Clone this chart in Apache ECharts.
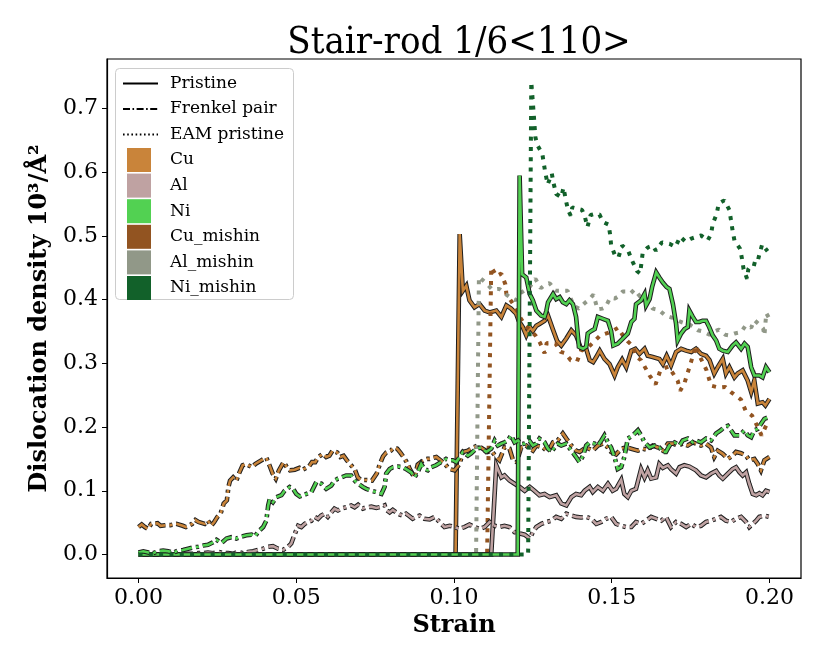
<!DOCTYPE html>
<html>
<head>
<meta charset="utf-8">
<script src="https://cdn.jsdelivr.net/npm/echarts@6/dist/echarts.min.js"></script>
<style>html,body{margin:0;padding:0;background:#fff}#c{width:830px;height:664px}</style>
</head>
<body>
<div id="c"></div>
<script>
// ---- tick labels ----
const strainTicks = [0, 0.05, 0.10, 0.15, 0.20];
const densityTicks = [0, 0.1, 0.2, 0.3, 0.4, 0.5, 0.6, 0.7];

// ---- legend entries ----
const styleNames = ['Pristine', 'Frenkel pair', 'EAM pristine'];
const elementNames = ['Cu', 'Al', 'Ni', 'Cu_mishin', 'Al_mishin', 'Ni_mishin'];
const elementColors = ['#c9843a', '#bfa2a2', '#52d152', '#925421', '#919888', '#12612a'];

// ---- data: [strain, density] ----
const cuPristine = [[0,0],[0.1005,0],[0.1018,0.503],[0.1028,0.414],[0.1039,0.422],[0.1049,0.399],[0.1065,0.388],[0.1081,0.393],[0.1097,0.383],[0.1113,0.380],[0.1134,0.383],[0.115,0.373],[0.1166,0.391],[0.1181,0.386],[0.1197,0.378],[0.1205,0.367],[0.1218,0.357],[0.1229,0.344],[0.124,0.357],[0.125,0.351],[0.1261,0.359],[0.1271,0.362],[0.1287,0.367],[0.1298,0.375],[0.1313,0.354],[0.1327,0.335],[0.134,0.328],[0.1356,0.339],[0.1372,0.352],[0.1387,0.344],[0.1403,0.323],[0.1419,0.323],[0.143,0.305],[0.1441,0.302],[0.1451,0.31],[0.1462,0.32],[0.1477,0.307],[0.1493,0.299],[0.1509,0.281],[0.1519,0.294],[0.1533,0.306],[0.1546,0.294],[0.1562,0.32],[0.1575,0.323],[0.1588,0.315],[0.1604,0.323],[0.1614,0.312],[0.163,0.31],[0.1651,0.307],[0.1662,0.299],[0.1674,0.312],[0.1688,0.297],[0.1704,0.318],[0.172,0.323],[0.1736,0.32],[0.1752,0.318],[0.1767,0.323],[0.1783,0.315],[0.1799,0.312],[0.181,0.305],[0.1825,0.284],[0.1836,0.294],[0.1852,0.307],[0.1862,0.284],[0.1873,0.294],[0.1889,0.278],[0.1899,0.284],[0.1915,0.289],[0.1931,0.273],[0.1942,0.255],[0.1952,0.273],[0.1963,0.237],[0.1978,0.239],[0.1987,0.234],[0.2,0.244]];

const cuFrenkel = [[0,0.043],[0.001,0.047],[0.002,0.043],[0.003,0.040],[0.004,0.048],[0.006,0.049],[0.007,0.045],[0.009,0.046],[0.010,0.046],[0.012,0.048],[0.014,0.045],[0.015,0.043],[0.017,0.048],[0.018,0.054],[0.019,0.051],[0.021,0.048],[0.022,0.053],[0.023,0.045],[0.024,0.051],[0.025,0.059],[0.026,0.064],[0.027,0.080],[0.028,0.085],[0.0285,0.106],[0.029,0.116],[0.030,0.121],[0.031,0.116],[0.032,0.129],[0.033,0.140],[0.034,0.142],[0.036,0.137],[0.037,0.142],[0.039,0.148],[0.0405,0.152],[0.0415,0.140],[0.0425,0.127],[0.0435,0.119],[0.0445,0.132],[0.046,0.145],[0.047,0.137],[0.048,0.132],[0.0495,0.133],[0.051,0.136],[0.052,0.133],[0.054,0.138],[0.055,0.145],[0.056,0.145],[0.057,0.153],[0.0585,0.158],[0.0595,0.153],[0.0605,0.155],[0.0615,0.163],[0.063,0.160],[0.064,0.153],[0.065,0.155],[0.066,0.148],[0.067,0.142],[0.0685,0.134],[0.0695,0.121],[0.0705,0.117],[0.072,0.117],[0.074,0.116],[0.0755,0.127],[0.0765,0.142],[0.0775,0.154],[0.0785,0.160],[0.080,0.163],[0.081,0.168],[0.082,0.166],[0.083,0.160],[0.084,0.153],[0.085,0.145],[0.086,0.134],[0.0875,0.121],[0.0885,0.141],[0.0895,0.145],[0.0905,0.148],[0.0915,0.150],[0.0923,0.150],[0.0944,0.153],[0.0965,0.145],[0.0986,0.134],[0.1002,0.132],[0.1018,0.142],[0.1028,0.161],[0.1044,0.163],[0.106,0.168],[0.1076,0.171],[0.1091,0.166],[0.1107,0.161],[0.1118,0.163],[0.1134,0.153],[0.1144,0.148],[0.116,0.168],[0.1176,0.166],[0.1187,0.148],[0.1199,0.145],[0.1213,0.168],[0.1229,0.171],[0.124,0.166],[0.125,0.163],[0.1261,0.171],[0.1282,0.168],[0.1298,0.161],[0.1314,0.176],[0.1329,0.179],[0.1345,0.190],[0.1356,0.182],[0.1372,0.171],[0.1387,0.163],[0.1398,0.161],[0.1419,0.168],[0.144,0.163],[0.1456,0.171],[0.1472,0.174],[0.1488,0.168],[0.1498,0.161],[0.1514,0.157],[0.153,0.166],[0.1546,0.168],[0.1562,0.166],[0.1583,0.163],[0.1599,0.166],[0.1614,0.164],[0.163,0.171],[0.1646,0.168],[0.1662,0.163],[0.1678,0.174],[0.1694,0.174],[0.1709,0.171],[0.1725,0.174],[0.1741,0.171],[0.1757,0.176],[0.1767,0.174],[0.1783,0.171],[0.1799,0.174],[0.1815,0.168],[0.1825,0.153],[0.1836,0.163],[0.1852,0.158],[0.1868,0.150],[0.1883,0.155],[0.1894,0.161],[0.191,0.159],[0.1926,0.155],[0.1936,0.148],[0.1952,0.150],[0.1963,0.142],[0.1973,0.132],[0.1984,0.148],[0.2,0.153]];

const cuMishin = [[0,0],[0.1105,0],[0.1118,0.451],[0.1135,0.437],[0.115,0.441],[0.1163,0.424],[0.1166,0.409],[0.1181,0.398],[0.1195,0.388],[0.121,0.372],[0.1225,0.36],[0.1258,0.344],[0.1273,0.332],[0.1287,0.316],[0.1294,0.332],[0.1322,0.331],[0.1338,0.318],[0.1353,0.316],[0.137,0.305],[0.139,0.303],[0.1403,0.32],[0.1425,0.325],[0.1464,0.344],[0.15,0.35],[0.152,0.356],[0.1535,0.344],[0.155,0.335],[0.1565,0.328],[0.158,0.31],[0.1593,0.305],[0.161,0.29],[0.162,0.281],[0.1639,0.267],[0.1655,0.29],[0.168,0.295],[0.1709,0.273],[0.1717,0.257],[0.173,0.268],[0.175,0.3],[0.1767,0.328],[0.178,0.31],[0.18,0.29],[0.1815,0.265],[0.184,0.262],[0.186,0.263],[0.1878,0.255],[0.191,0.243],[0.1925,0.225],[0.1945,0.218],[0.1963,0.2],[0.1975,0.187],[0.199,0.203],[0.2,0.2]];

const alPristine = [[0,0],[0.1118,0],[0.1134,0.14],[0.115,0.121],[0.116,0.124],[0.1176,0.116],[0.1192,0.111],[0.1208,0.106],[0.1224,0.100],[0.124,0.106],[0.1255,0.100],[0.1271,0.093],[0.1287,0.095],[0.1303,0.090],[0.1324,0.093],[0.134,0.080],[0.1356,0.077],[0.1372,0.090],[0.1387,0.095],[0.1403,0.093],[0.1414,0.100],[0.143,0.106],[0.144,0.098],[0.1456,0.106],[0.1472,0.100],[0.1488,0.111],[0.1503,0.100],[0.1514,0.103],[0.153,0.117],[0.154,0.095],[0.1551,0.090],[0.1562,0.100],[0.1577,0.103],[0.1593,0.134],[0.1604,0.121],[0.1614,0.132],[0.1625,0.119],[0.1641,0.121],[0.1651,0.142],[0.1662,0.136],[0.1678,0.140],[0.1688,0.134],[0.1704,0.127],[0.1715,0.137],[0.173,0.140],[0.1746,0.138],[0.1767,0.132],[0.1783,0.124],[0.1799,0.121],[0.1815,0.127],[0.1831,0.131],[0.1841,0.124],[0.1852,0.119],[0.1868,0.127],[0.1883,0.134],[0.1894,0.137],[0.1905,0.129],[0.1915,0.124],[0.1926,0.129],[0.1936,0.111],[0.1947,0.095],[0.1958,0.093],[0.1968,0.096],[0.1978,0.093],[0.1989,0.100],[0.2,0.098]];

const alFrenkel = [[0,0],[0.0015,0.002],[0.0031,0.001],[0.0046,0.001],[0.0062,0.001],[0.0078,0.001],[0.0094,0.002],[0.011,0.001],[0.0126,0.002],[0.0141,0.001],[0.0157,0.001],[0.0173,0.001],[0.0189,0.002],[0.0205,0.002],[0.022,0.003],[0.0236,0.002],[0.0252,0.004],[0.0268,0.002],[0.0284,0.002],[0.03,0.001],[0.0315,0.004],[0.0331,0.002],[0.0347,0.004],[0.0363,0.005],[0.0379,0.007],[0.0395,0.009],[0.0411,0.012],[0.0426,0.013],[0.0442,0.009],[0.0458,0.007],[0.0474,0.012],[0.0484,0.017],[0.0495,0.032],[0.0506,0.045],[0.0516,0.043],[0.0527,0.048],[0.0537,0.051],[0.0548,0.053],[0.0558,0.059],[0.0569,0.056],[0.0579,0.061],[0.059,0.064],[0.06,0.059],[0.0611,0.066],[0.0621,0.072],[0.0632,0.069],[0.0643,0.072],[0.0658,0.074],[0.0674,0.077],[0.0685,0.074],[0.0696,0.078],[0.0711,0.072],[0.0722,0.074],[0.0738,0.075],[0.0754,0.073],[0.077,0.075],[0.078,0.077],[0.0785,0.070],[0.0796,0.066],[0.0806,0.070],[0.0817,0.066],[0.0827,0.063],[0.0838,0.061],[0.0848,0.064],[0.0859,0.060],[0.0869,0.056],[0.088,0.059],[0.0891,0.061],[0.0906,0.056],[0.0923,0.055],[0.0939,0.059],[0.0954,0.051],[0.097,0.043],[0.0986,0.045],[0.1002,0.043],[0.1018,0.040],[0.1033,0.043],[0.1049,0.047],[0.1065,0.043],[0.1081,0.040],[0.1097,0.043],[0.1113,0.051],[0.1129,0.045],[0.1144,0.043],[0.116,0.045],[0.1176,0.043],[0.1192,0.035],[0.1208,0.033],[0.1224,0.031],[0.124,0.025],[0.125,0.035],[0.1261,0.043],[0.1277,0.048],[0.1293,0.051],[0.1308,0.053],[0.1324,0.059],[0.134,0.056],[0.1356,0.064],[0.1372,0.061],[0.1387,0.059],[0.1403,0.058],[0.1419,0.059],[0.1435,0.056],[0.1451,0.048],[0.1467,0.051],[0.1482,0.056],[0.1498,0.059],[0.1514,0.048],[0.153,0.045],[0.1546,0.043],[0.1562,0.043],[0.1577,0.051],[0.1593,0.048],[0.1609,0.053],[0.1625,0.059],[0.1641,0.056],[0.1657,0.053],[0.1672,0.059],[0.1688,0.043],[0.1704,0.051],[0.172,0.048],[0.1736,0.043],[0.1752,0.048],[0.1767,0.043],[0.1783,0.045],[0.1799,0.051],[0.1815,0.053],[0.1831,0.056],[0.1846,0.059],[0.1862,0.053],[0.1878,0.051],[0.1894,0.056],[0.191,0.059],[0.1926,0.051],[0.1936,0.043],[0.1947,0.048],[0.1958,0.053],[0.1968,0.059],[0.1984,0.061],[0.2,0.059]];

const alMishin = [[0,0],[0.107,0],[0.1079,0.436],[0.1102,0.426],[0.1121,0.416],[0.1144,0.417],[0.116,0.41],[0.118,0.403],[0.1195,0.399],[0.121,0.41],[0.1225,0.415],[0.124,0.42],[0.1258,0.433],[0.1275,0.418],[0.129,0.424],[0.1303,0.426],[0.1322,0.414],[0.134,0.414],[0.136,0.414],[0.138,0.39],[0.1396,0.386],[0.1415,0.395],[0.1428,0.4],[0.1442,0.408],[0.1455,0.385],[0.147,0.386],[0.148,0.388],[0.1495,0.403],[0.151,0.402],[0.152,0.405],[0.1535,0.413],[0.1546,0.413],[0.156,0.41],[0.1572,0.416],[0.159,0.405],[0.161,0.401],[0.163,0.386],[0.165,0.384],[0.167,0.375],[0.169,0.372],[0.172,0.365],[0.175,0.36],[0.1773,0.352],[0.179,0.35],[0.181,0.345],[0.1825,0.35],[0.184,0.353],[0.186,0.345],[0.1873,0.344],[0.189,0.347],[0.191,0.349],[0.1925,0.36],[0.1942,0.356],[0.1952,0.368],[0.197,0.36],[0.198,0.355],[0.1984,0.344],[0.199,0.379],[0.2,0.37]];

const niPristine = [[0,0],[0.1202,0],[0.1208,0.595],[0.1216,0.44],[0.1229,0.435],[0.124,0.409],[0.125,0.399],[0.1261,0.383],[0.1276,0.375],[0.1287,0.373],[0.1293,0.383],[0.1298,0.396],[0.1314,0.409],[0.1324,0.401],[0.1335,0.404],[0.1345,0.396],[0.1356,0.393],[0.1366,0.399],[0.1377,0.393],[0.1387,0.373],[0.1396,0.326],[0.1409,0.323],[0.1419,0.326],[0.1424,0.347],[0.1435,0.351],[0.1446,0.354],[0.1456,0.373],[0.1472,0.370],[0.1488,0.367],[0.1498,0.351],[0.1505,0.328],[0.1519,0.331],[0.1535,0.339],[0.1551,0.347],[0.1562,0.365],[0.1572,0.370],[0.1577,0.393],[0.1593,0.399],[0.1604,0.409],[0.1609,0.391],[0.162,0.401],[0.1628,0.420],[0.1641,0.443],[0.1651,0.435],[0.1662,0.427],[0.1674,0.420],[0.1683,0.417],[0.1694,0.393],[0.1704,0.362],[0.1709,0.336],[0.172,0.347],[0.1731,0.354],[0.1741,0.357],[0.1746,0.383],[0.1757,0.373],[0.1767,0.365],[0.1778,0.365],[0.1788,0.367],[0.1799,0.367],[0.1809,0.357],[0.182,0.344],[0.1831,0.336],[0.1841,0.323],[0.1852,0.320],[0.1868,0.318],[0.1883,0.328],[0.1894,0.333],[0.191,0.323],[0.1921,0.331],[0.1931,0.326],[0.1942,0.294],[0.1952,0.281],[0.1968,0.281],[0.1978,0.278],[0.1989,0.294],[0.2,0.286]];

const niFrenkel = [[0,0.003],[0.0015,0.005],[0.0031,0.003],[0.0046,0.002],[0.0062,0.005],[0.0078,0.006],[0.0094,0.005],[0.011,0.003],[0.0126,0.006],[0.0141,0.007],[0.0157,0.009],[0.0173,0.011],[0.0189,0.012],[0.0205,0.014],[0.022,0.015],[0.0236,0.019],[0.0247,0.023],[0.0263,0.018],[0.0279,0.025],[0.0294,0.027],[0.031,0.025],[0.0326,0.028],[0.0342,0.030],[0.0358,0.031],[0.0368,0.028],[0.0384,0.038],[0.0395,0.043],[0.0405,0.053],[0.0411,0.077],[0.0416,0.087],[0.0426,0.082],[0.0437,0.090],[0.0453,0.093],[0.0463,0.100],[0.0479,0.106],[0.049,0.103],[0.050,0.095],[0.0511,0.091],[0.0521,0.093],[0.0532,0.095],[0.0548,0.098],[0.0564,0.114],[0.058,0.111],[0.0595,0.103],[0.0611,0.108],[0.0621,0.116],[0.0632,0.119],[0.0643,0.121],[0.0658,0.124],[0.0674,0.124],[0.0685,0.116],[0.0696,0.111],[0.0711,0.106],[0.0722,0.103],[0.0738,0.100],[0.0754,0.098],[0.077,0.095],[0.078,0.106],[0.0785,0.127],[0.0796,0.134],[0.0806,0.137],[0.0822,0.138],[0.0838,0.137],[0.0848,0.134],[0.0864,0.129],[0.0875,0.121],[0.0885,0.129],[0.0896,0.142],[0.0906,0.134],[0.0917,0.132],[0.0928,0.137],[0.0943,0.140],[0.0959,0.145],[0.0975,0.150],[0.0986,0.148],[0.0996,0.148],[0.1007,0.145],[0.1018,0.153],[0.1028,0.161],[0.1044,0.155],[0.1055,0.159],[0.107,0.166],[0.1086,0.168],[0.1102,0.161],[0.1118,0.166],[0.1129,0.179],[0.1139,0.171],[0.115,0.174],[0.116,0.176],[0.1171,0.179],[0.1181,0.187],[0.1192,0.176],[0.1203,0.179],[0.1213,0.173],[0.1224,0.174],[0.124,0.178],[0.125,0.171],[0.1261,0.174],[0.1271,0.182],[0.1287,0.176],[0.1298,0.166],[0.1308,0.161],[0.1319,0.168],[0.1329,0.174],[0.134,0.171],[0.1356,0.174],[0.1372,0.163],[0.1387,0.153],[0.1398,0.145],[0.1409,0.155],[0.1419,0.171],[0.143,0.176],[0.1446,0.174],[0.1456,0.171],[0.1467,0.179],[0.1477,0.187],[0.1488,0.176],[0.1498,0.168],[0.1509,0.153],[0.1519,0.134],[0.153,0.137],[0.154,0.153],[0.1551,0.182],[0.1567,0.187],[0.1583,0.195],[0.1593,0.187],[0.1604,0.176],[0.162,0.168],[0.1636,0.171],[0.1651,0.168],[0.1662,0.161],[0.1672,0.161],[0.1683,0.171],[0.1699,0.176],[0.1715,0.171],[0.1725,0.179],[0.1741,0.182],[0.1757,0.176],[0.1767,0.179],[0.1783,0.176],[0.1799,0.182],[0.1815,0.179],[0.1831,0.190],[0.1846,0.195],[0.1857,0.200],[0.1868,0.202],[0.1878,0.195],[0.1889,0.187],[0.1905,0.187],[0.1921,0.195],[0.1931,0.187],[0.1942,0.184],[0.1952,0.195],[0.1963,0.197],[0.1973,0.205],[0.1984,0.213],[0.2,0.216]];

const niMishin = [[0,0],[0.1235,0],[0.1245,0.742],[0.1253,0.69],[0.1258,0.655],[0.1264,0.643],[0.128,0.629],[0.1285,0.613],[0.129,0.598],[0.1297,0.581],[0.131,0.598],[0.1316,0.582],[0.1324,0.566],[0.134,0.561],[0.1347,0.576],[0.1356,0.553],[0.1362,0.54],[0.137,0.532],[0.1375,0.545],[0.1406,0.541],[0.1415,0.53],[0.1423,0.514],[0.1433,0.533],[0.1448,0.535],[0.1461,0.534],[0.1472,0.522],[0.149,0.518],[0.1495,0.502],[0.1498,0.486],[0.151,0.47],[0.1521,0.466],[0.1533,0.485],[0.1553,0.476],[0.1564,0.462],[0.158,0.445],[0.159,0.441],[0.1594,0.457],[0.1598,0.473],[0.1614,0.482],[0.163,0.485],[0.164,0.477],[0.1659,0.49],[0.1683,0.488],[0.1702,0.483],[0.1717,0.499],[0.1734,0.491],[0.1752,0.496],[0.1783,0.501],[0.1804,0.493],[0.1815,0.503],[0.182,0.519],[0.1833,0.535],[0.1839,0.551],[0.1857,0.556],[0.1873,0.541],[0.1878,0.525],[0.1883,0.509],[0.1889,0.493],[0.1907,0.48],[0.1913,0.464],[0.1918,0.448],[0.1929,0.433],[0.1933,0.448],[0.1945,0.457],[0.196,0.455],[0.1968,0.471],[0.1977,0.487],[0.1994,0.476]];

// ---- styling ----
const DASHDOT = [11, 4, 3, 4];
const DOTTED = [4, 6.3];
const OUTLINE = '#1e1e1e';
const SERIF = "'DejaVu Serif', serif";

function outlined(data, color, dash) {
  return [
    { type: 'line', data: data, symbol: 'none', silent: true, animation: false,
      lineStyle: { color: OUTLINE, width: 4.6, type: dash || 'solid', cap: 'butt', join: 'miter' }, z: 2 },
    { type: 'line', data: data, symbol: 'none', silent: true, animation: false,
      lineStyle: { color: color, width: 2.6, type: dash || 'solid', cap: 'butt', join: 'miter' }, z: 2 }
  ];
}
function dotted(data, color) {
  return { type: 'line', data: data, symbol: 'none', silent: true, animation: false,
    lineStyle: { color: color, width: 4, type: DOTTED, cap: 'butt' }, z: 2 };
}

const C = {};
elementNames.forEach((n, i) => C[n] = elementColors[i]);

const series = [].concat(
  outlined(cuPristine, C.Cu), outlined(cuFrenkel, C.Cu, DASHDOT), [dotted(cuMishin, C.Cu_mishin)],
  outlined(alPristine, C.Al), outlined(alFrenkel, C.Al, DASHDOT), [dotted(alMishin, C.Al_mishin)],
  outlined(niPristine, C.Ni), outlined(niFrenkel, C.Ni, DASHDOT), [dotted(niMishin, C.Ni_mishin)]
);
// legend-only series
const legendLineTypes = ['solid', [7, 2.5, 1.6, 2.5], [1.6, 2.6]];
styleNames.forEach((n, i) => series.push({ name: n, type: 'line', data: [], symbol: 'none',
  color: '#000', itemStyle: { color: '#000', opacity: 0 },
  lineStyle: { color: '#000', width: i === 0 ? 2 : 1.6, type: legendLineTypes[i] } }));
elementNames.forEach((n, i) => series.push({ name: n, type: 'line', data: [], symbol: 'none',
  color: elementColors[i], itemStyle: { color: elementColors[i] }, lineStyle: { color: elementColors[i] } }));

const chart = echarts.init(document.getElementById('c'), null, { renderer: 'canvas' });
chart.setOption({
  animation: false,
  backgroundColor: '#fff',
  title: {
    text: 'Stair-rod 1/6<110>',
    left: 454, top: 19, textAlign: 'center',
    textStyle: { fontFamily: "'DejaVu Serif Condensed', 'DejaVu Serif', serif", fontSize: 38, fontWeight: 'normal', color: '#000' }
  },
  grid: { left: 107, right: 29, top: 59, bottom: 86, show: true, borderColor: '#000', borderWidth: 1.2, backgroundColor: 'transparent' },
  graphic: [{
    type: 'rect', left: 115, top: 68, z: 3,
    shape: { width: 178, height: 231, r: 4 },
    style: { fill: 'rgba(255,255,255,0.85)', stroke: '#cccccc', lineWidth: 1 }
  }],
  legend: [
    { data: styleNames.map(n => ({ name: n, itemStyle: { opacity: 0 } })), orient: 'vertical', left: 117, top: 70,
      itemWidth: 35, itemHeight: 14, itemGap: 8.5, selectedMode: false, z: 5,
      itemStyle: { opacity: 0 },
      textStyle: { fontFamily: SERIF, fontSize: 17, color: '#000', padding: [0, 0, 0, 7] } },
    { data: elementNames.map(n => ({ name: n, icon: 'rect' })), orient: 'vertical', left: 122, top: 143,
      itemWidth: 24, itemHeight: 24, itemGap: 1.6, selectedMode: false, z: 5,
      textStyle: { fontFamily: SERIF, fontSize: 17, color: '#000', padding: [0, 0, 0, 14] } }
  ],
  xAxis: {
    type: 'value', min: -0.01, max: 0.21,
    name: 'Strain', nameLocation: 'middle', nameGap: 34,
    nameTextStyle: { fontFamily: SERIF, fontSize: 24, fontWeight: 'bold', color: '#000' },
    axisLine: { show: true, onZero: false, lineStyle: { color: '#000', width: 1.2 } },
    axisTick: { show: true, length: 5, lineStyle: { color: '#000' }, customValues: strainTicks },
    axisLabel: { customValues: strainTicks, formatter: v => v.toFixed(2), margin: 9,
      fontFamily: SERIF, fontSize: 22, color: '#000' },
    splitLine: { show: false }
  },
  yAxis: {
    type: 'value', min: -0.037, max: 0.778,
    name: 'Dislocation density 10³/Å²', nameLocation: 'middle', nameGap: 54, nameRotate: 90,
    nameTextStyle: { fontFamily: SERIF, fontSize: 24, fontWeight: 'bold', color: '#000' },
    axisLine: { show: true, onZero: false, lineStyle: { color: '#000', width: 1.2 } },
    axisTick: { show: true, length: 5, lineStyle: { color: '#000' }, customValues: densityTicks },
    axisLabel: { customValues: densityTicks, formatter: v => v.toFixed(1), margin: 9,
      fontFamily: SERIF, fontSize: 22, color: '#000' },
    splitLine: { show: false }
  },
  series: series
});
</script>
</body>
</html>
